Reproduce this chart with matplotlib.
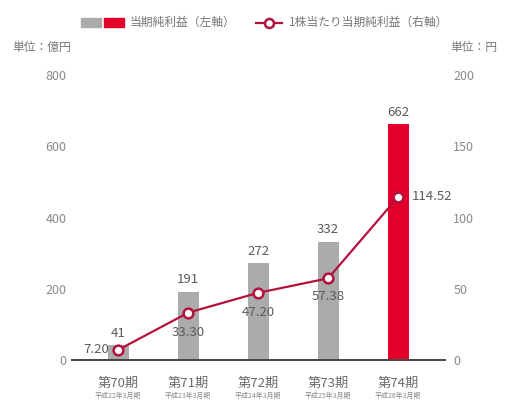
import matplotlib
matplotlib.use("Agg")
import matplotlib.pyplot as plt
from matplotlib.patches import Rectangle
from matplotlib.lines import Line2D

plt.rcParams['font.family'] = ['Noto Sans CJK JP', 'DejaVu Sans']

periods = ["第70期", "第71期", "第72期", "第73期", "第74期"]
fiscal = ["平成22年3月期", "平成23年3月期", "平成24年3月期", "平成25年3月期", "平成26年3月期"]
net_income = [41, 191, 272, 332, 662]          # 億円 (left axis)
eps = [7.20, 33.30, 47.20, 57.38, 114.52]      # 円 (right axis)
eps_labels = ["7.20", "33.30", "47.20", "57.38", "114.52"]
left_ticks = [0, 200, 400, 600, 800]
right_ticks = [0, 50, 100, 150, 200]

GRAY = "#ababab"
RED = "#e5002b"
LINE = "#b4123d"
TXT = "#5a5a5a"
TICK = "#8a8a8a"

fig = plt.figure(figsize=(5.08, 4.01), dpi=100)
ax = fig.add_axes([0.142, 0.102, 0.734, 0.711])
ax2 = ax.twinx()

x = list(range(len(periods)))
colors = [GRAY] * (len(periods) - 1) + [RED]
ax.bar(x, net_income, width=0.3, color=colors, zorder=2)
for xi, v in zip(x, net_income):
    ax.annotate(str(v), (xi, v), xytext=(0, 4), textcoords='offset points',
                ha='center', va='bottom', fontsize=9.5, color=TXT)

ax2.plot(x, eps, color=LINE, lw=1.6, marker='o', ms=7, mfc='white',
         mec=LINE, mew=1.8, zorder=5)

# EPS value labels placed around each marker (offsets in points)
offsets = [(-7, 0, 'right', 'center'),
           (0, -14, 'center', 'center'),
           (0, -14, 'center', 'center'),
           (0, -13, 'center', 'center'),
           (10, 0, 'left', 'center')]
for xi, v, lab, (dx, dy, ha, va) in zip(x, eps, eps_labels, offsets):
    ax2.annotate(lab, (xi, v), xytext=(dx, dy), textcoords='offset points',
                 ha=ha, va=va, fontsize=9.5, color=TXT, zorder=6)

ax.set_xlim(-0.66, 4.67)
ax.set_ylim(0, 800)
ax2.set_ylim(0, 200)
ax.set_yticks(left_ticks)
ax2.set_yticks(right_ticks)
ax.set_xticks(x)
ax.set_xticklabels([])

for a in (ax, ax2):
    for s in ('top', 'left', 'right', 'bottom'):
        a.spines[s].set_visible(False)
    a.tick_params(length=0, labelsize=9, labelcolor=TICK)
ax.tick_params(axis='y', pad=4)
ax2.tick_params(axis='y', pad=6)

ax.axhline(0, color="#444444", lw=1.4, zorder=3, clip_on=False)

for xi, p, f in zip(x, periods, fiscal):
    ax.annotate(p, (xi, 0), xytext=(0, -16.5), textcoords='offset points',
                ha='center', va='center', fontsize=9.5, color="#6a6a6a")
    ax.annotate(f, (xi, 0), xytext=(0, -25.5), textcoords='offset points',
                ha='center', va='center', fontsize=5, color="#8a8a8a")

# unit labels
W, H = 508, 401
fig.text(12 / W, 1 - 47 / H, "単位：億円", fontsize=8.5, color="#777777", va='center', ha='left')
fig.text(497 / W, 1 - 47 / H, "単位：円", fontsize=8.5, color="#777777", va='center', ha='right')

# legend drawn in figure coordinates
fig.patches.append(Rectangle((81 / W, 1 - 27 / H), 20 / W, 9 / H, color=GRAY, transform=fig.transFigure))
fig.patches.append(Rectangle((104 / W, 1 - 27 / H), 20 / W, 9 / H, color=RED, transform=fig.transFigure))
fig.text(130 / W, 1 - 22.5 / H, "当期純利益（左軸）", fontsize=8.5, color="#777777", va='center', ha='left')
fig.lines.append(Line2D([256 / W, 282 / W], [1 - 23 / H, 1 - 23 / H], color=LINE, lw=1.6,
                        transform=fig.transFigure))
fig.lines.append(Line2D([269 / W], [1 - 23 / H], marker='o', ms=6.5, mfc='white', mec=LINE,
                        mew=1.8, transform=fig.transFigure))
fig.text(289 / W, 1 - 22.5 / H, "1株当たり当期純利益（右軸）", fontsize=8.5, color="#777777",
         va='center', ha='left')

fig.savefig("out.png", dpi=100)
